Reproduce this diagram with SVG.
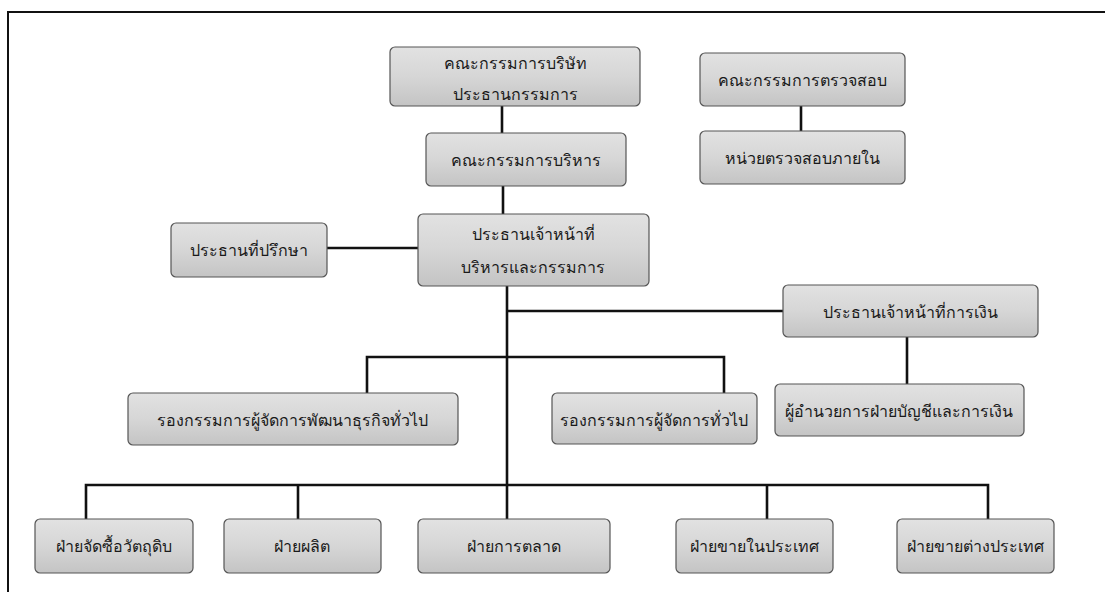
<svg xmlns="http://www.w3.org/2000/svg" width="1105" height="592" viewBox="0 0 1105 592">
<defs>
<linearGradient id="g" x1="0" y1="0" x2="0" y2="1">
<stop offset="0" stop-color="#e2e2e2"/>
<stop offset="0.5" stop-color="#d6d6d6"/>
<stop offset="1" stop-color="#c4c4c4"/>
</linearGradient>
</defs>
<style>
.box{fill:url(#g);stroke:#555;stroke-width:1.2}
.t{font-family:"Noto Sans","DejaVu Sans",sans-serif;font-size:16px;fill:#1a1a1a;text-anchor:middle;dominant-baseline:central}
.c{stroke:#111;stroke-width:2.6;fill:none}
.frame{stroke:#111;stroke-width:2;fill:none}
</style>
<rect width="1105" height="592" fill="#fff"/>
<path class="frame" d="M8,592 V12 H1105"/>
<g id="connectors">
<path class="c" d="M502,106 V133"/>
<path class="c" d="M503,186 V214"/>
<path class="c" d="M327,248 H418"/>
<path class="c" d="M801,106 V131"/>
<path class="c" d="M507,286 V519"/>
<path class="c" d="M507,311 H783"/>
<path class="c" d="M907,337 V384"/>
<path class="c" d="M367,393 V357 H724 V393"/>
<path class="c" d="M86,519 V485 H988 V519"/>
<path class="c" d="M298,485 V519"/>
<path class="c" d="M767,485 V519"/>
</g>
<g id="board">
<rect class="box" x="390" y="47" width="250" height="59" rx="5"/>
<text class="t" x="515" y="63">คณะกรรมการบริษัท</text>
<text class="t" x="515" y="94">ประธานกรรมการ</text>
</g>
<g id="exec">
<rect class="box" x="426" y="133" width="200" height="53" rx="5"/>
<text class="t" x="526" y="160">คณะกรรมการบริหาร</text>
</g>
<g id="audit">
<rect class="box" x="700" y="53" width="205" height="53" rx="5"/>
<text class="t" x="802" y="80">คณะกรรมการตรวจสอบ</text>
</g>
<g id="internal-audit">
<rect class="box" x="700" y="131" width="205" height="53" rx="5"/>
<text class="t" x="802" y="158">หน่วยตรวจสอบภายใน</text>
</g>
<g id="ceo">
<rect class="box" x="418" y="214" width="231" height="72" rx="5"/>
<text class="t" x="533" y="234">ประธานเจ้าหน้าที่</text>
<text class="t" x="533" y="267">บริหารและกรรมการ</text>
</g>
<g id="advisor">
<rect class="box" x="171" y="223" width="156" height="54" rx="5"/>
<text class="t" x="249" y="250">ประธานที่ปรึกษา</text>
</g>
<g id="cfo">
<rect class="box" x="783" y="285" width="255" height="52" rx="5"/>
<text class="t" x="910" y="312">ประธานเจ้าหน้าที่การเงิน</text>
</g>
<g id="accounting">
<rect class="box" x="775" y="384" width="249" height="52" rx="5"/>
<text class="t" x="899" y="411">ผู้อำนวยการฝ่ายบัญชีและการเงิน</text>
</g>
<g id="vp-bizdev">
<rect class="box" x="128" y="393" width="330" height="52" rx="5"/>
<text class="t" x="292" y="420">รองกรรมการผู้จัดการพัฒนาธุรกิจทั่วไป</text>
</g>
<g id="vp-general">
<rect class="box" x="552" y="393" width="205" height="51" rx="5"/>
<text class="t" x="654" y="420">รองกรรมการผู้จัดการทั่วไป</text>
</g>
<g id="purchasing">
<rect class="box" x="35" y="519" width="158" height="54" rx="5"/>
<text class="t" x="114" y="546">ฝ่ายจัดซื้อวัตถุดิบ</text>
</g>
<g id="production">
<rect class="box" x="224" y="519" width="157" height="54" rx="5"/>
<text class="t" x="302" y="546">ฝ่ายผลิต</text>
</g>
<g id="marketing">
<rect class="box" x="418" y="519" width="192" height="54" rx="5"/>
<text class="t" x="514" y="546">ฝ่ายการตลาด</text>
</g>
<g id="domestic">
<rect class="box" x="676" y="519" width="157" height="54" rx="5"/>
<text class="t" x="754" y="546">ฝ่ายขายในประเทศ</text>
</g>
<g id="export">
<rect class="box" x="897" y="519" width="157" height="54" rx="5"/>
<text class="t" x="975" y="546">ฝ่ายขายต่างประเทศ</text>
</g>
</svg>
